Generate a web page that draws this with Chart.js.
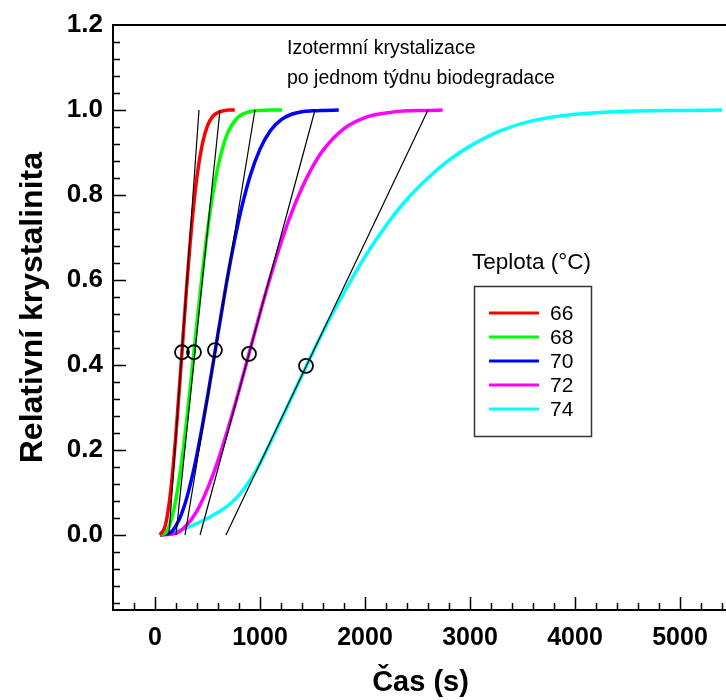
<!DOCTYPE html>
<html>
<head>
<meta charset="utf-8">
<script src="https://cdn.jsdelivr.net/npm/chart.js@4.4.0/dist/chart.umd.min.js"></script>
<style>
  html, body { margin: 0; padding: 0; background: #fff; overflow: hidden; }
</style>
</head>
<body>
<canvas id="crystChart" width="726" height="700"></canvas>
<script>
// ---------- data ----------
const temperatures = ["66", "68", "70", "72", "74"];

const time66 = [48, 100, 150, 200, 250, 300, 350, 400, 450, 500, 550, 600, 650, 700, 760];
const cryst66 = [0, 0.024, 0.105, 0.239, 0.407, 0.579, 0.729, 0.844, 0.919, 0.963, 0.985, 0.994, 0.998, 1.0, 1.0];

const time68 = [48, 100, 150, 200, 250, 300, 350, 400, 450, 500, 550, 600, 650, 700, 800, 900, 1000, 1100, 1210];
const cryst68 = [0, 0.005, 0.031, 0.085, 0.165, 0.266, 0.381, 0.5, 0.614, 0.716, 0.801, 0.867, 0.916, 0.95, 0.985, 0.996, 0.999, 1.0, 1.0];

const time70 = [48, 150, 200, 250, 300, 350, 400, 450, 500, 550, 600, 650, 700, 800, 900, 1000, 1100, 1200, 1300, 1400, 1500, 1600, 1750];
const cryst70 = [0, 0.006, 0.022, 0.048, 0.085, 0.133, 0.19, 0.255, 0.325, 0.399, 0.474, 0.548, 0.619, 0.743, 0.84, 0.908, 0.952, 0.977, 0.99, 0.996, 0.998, 0.999, 1.0];

const time72 = [48, 200, 300, 400, 500, 600, 700, 800, 900, 1000, 1100, 1200, 1300, 1400, 1500, 1600, 1800, 2000, 2200, 2400, 2600, 2740];
const cryst72 = [0, 0.004, 0.023, 0.057, 0.109, 0.175, 0.254, 0.34, 0.431, 0.522, 0.608, 0.688, 0.758, 0.817, 0.866, 0.905, 0.956, 0.982, 0.993, 0.998, 0.999, 1.0];

const time74 = [48, 200, 400, 600, 700, 800, 900, 1000, 1100, 1200, 1300, 1400, 1600, 1800, 2000, 2200, 2400, 2600, 2800, 3000, 3300, 3600, 4000, 4500, 5000, 5400];
const cryst74 = [0, 0.008, 0.027, 0.053, 0.07, 0.094, 0.127, 0.168, 0.218, 0.27, 0.323, 0.376, 0.478, 0.57, 0.655, 0.728, 0.79, 0.84, 0.882, 0.915, 0.952, 0.975, 0.99, 0.997, 0.999, 1.0];

// tangents through the inflection point (x at crystallinity 0 and 1)
const tangentStart = [133, 200, 286, 429, 676];
const tangentEnd = [419, 619, 952, 1524, 2600];

// marked inflection points
const markTime = [257, 371, 571, 895, 1438];
const markCryst = [0.43, 0.43, 0.435, 0.426, 0.398];

const xTickValues = [0, 1000, 2000, 3000, 4000, 5000];
const yTickValues = [0, 0.2, 0.4, 0.6, 0.8, 1.0, 1.2];

const noteLines = ["Izotermní krystalizace", "po jednom týdnu biodegradace"];
const legendTitle = "Teplota (°C)";
const xTitle = "Čas (s)";
const yTitle = "Relativní krystalinita";

// ---------- styling ----------
const FONT = '"Liberation Sans", Arial, Helvetica, sans-serif';
const lineColors = ["#ff0000", "#00ff00", "#0000ff", "#ff00ff", "#00ffff"];
const X_MIN = -400, X_MAX = 5438;
const X_PX_PER_UNIT = 0.105; // 105 px per 1000 s, as in the original
const Y_MIN = -0.1765, Y_MAX = 1.2;

const times = [time66, time68, time70, time72, time74];
const crysts = [cryst66, cryst68, cryst70, cryst72, cryst74];

const toPoints = (xs, ys) => xs.map((x, i) => ({ x, y: ys[i] }));

const curveSets = temperatures.map((t, i) => ({
    label: t,
    data: toPoints(times[i], crysts[i]),
    showLine: true,
    borderColor: lineColors[i],
    borderWidth: 3.5,
    pointRadius: 0,
    cubicInterpolationMode: "monotone",
    clip: { left: 0, top: 0, right: 12, bottom: 0 },
    order: 3,
}));

const tangentSets = tangentStart.map((x0, i) => ({
    label: "tangent " + temperatures[i],
    data: [{ x: x0, y: 0 }, { x: tangentEnd[i], y: 1 }],
    showLine: true,
    borderColor: "#000",
    borderWidth: 1.2,
    pointRadius: 0,
    tension: 0,
    order: 2,
}));

const markSet = {
    label: "inflexe",
    data: toPoints(markTime, markCryst),
    showLine: false,
    pointStyle: "circle",
    pointRadius: 7,
    pointBackgroundColor: "rgba(0,0,0,0)",
    pointBorderColor: "#000",
    pointBorderWidth: 1.8,
    order: 1,
};

// ---------- frame, minor ticks, titles, note and legend ----------
const framePlugin = {
    id: "frame",
    afterLayout(chart) {
        // keep the time scale at the original's pixels per second
        const a = chart.chartArea, xs = chart.scales.x;
        xs.max = X_MIN + (a.right - a.left) / X_PX_PER_UNIT;
        xs.configure();
        xs._labelItems = null;
    },
    afterDraw(chart) {
        const { ctx, chartArea: a, scales } = chart;
        const xs = scales.x, ys = scales.y;
        ctx.save();

        // axis lines (left, bottom, top)
        ctx.strokeStyle = "#000";
        ctx.lineWidth = 2;
        ctx.beginPath();
        ctx.moveTo(chart.width, a.top);
        ctx.lineTo(a.left, a.top);
        ctx.lineTo(a.left, a.bottom);
        ctx.lineTo(chart.width, a.bottom);
        ctx.stroke();

        // inward ticks, major + minor
        ctx.lineWidth = 1.5;
        ctx.beginPath();
        for (let t = -200; t <= X_MAX; t += 200) {
            const px = Math.round(xs.getPixelForValue(t)) + 0.5;
            const len = t % 1000 === 0 ? 13 : 7;
            ctx.moveTo(px, a.bottom);
            ctx.lineTo(px, a.bottom - len);
        }
        for (let k = -4; k <= 29; k++) {
            const py = Math.round(ys.getPixelForValue(k * 0.04)) + 0.5;
            const len = k % 5 === 0 ? 13 : 7;
            ctx.moveTo(a.left, py);
            ctx.lineTo(a.left + len, py);
        }
        ctx.stroke();

        // axis titles
        ctx.fillStyle = "#000";
        ctx.textBaseline = "middle";
        ctx.textAlign = "center";
        ctx.font = "bold 29px " + FONT;
        ctx.fillText(xTitle, (a.left + chart.width) / 2 + 1, a.bottom + 73);
        ctx.save();
        ctx.translate(33, ys.getPixelForValue(0.535));
        ctx.rotate(-Math.PI / 2);
        ctx.font = "bold 32px " + FONT;
        ctx.fillText(yTitle, 0, 0);
        ctx.restore();

        // note text
        ctx.textAlign = "left";
        ctx.font = "19.5px " + FONT;
        const noteX = a.left + 174;
        noteLines.forEach((s, i) => ctx.fillText(s, noteX, a.top + 24 + i * 30));

        // legend
        const lx = a.left + 361, ly = a.top + 261;
        ctx.font = "22.5px " + FONT;
        ctx.fillText(legendTitle, lx - 2, ly - 23);
        ctx.strokeStyle = "#333";
        ctx.lineWidth = 1.5;
        ctx.strokeRect(lx + 0.5, ly + 0.5, 117, 150);
        ctx.font = "21px " + FONT;
        temperatures.forEach((t, i) => {
            const cy = ly + 27 + i * 24;
            ctx.strokeStyle = lineColors[i];
            ctx.lineWidth = 3;
            ctx.beginPath();
            ctx.moveTo(lx + 15, cy);
            ctx.lineTo(lx + 65, cy);
            ctx.stroke();
            ctx.fillStyle = "#000";
            ctx.fillText(t, lx + 76, cy + 1);
        });
        ctx.restore();
    },
};

new Chart(document.getElementById("crystChart"), {
    type: "scatter",
    data: { datasets: [markSet, ...tangentSets, ...curveSets] },
    options: {
        responsive: false,
        animation: false,
        layout: { padding: { top: 25, right: 0, left: 0, bottom: 0 } },
        plugins: {
            legend: { display: false },
            tooltip: { enabled: false },
        },
        scales: {
            x: {
                type: "linear",
                min: X_MIN,
                max: X_MAX,
                afterFit: (s) => {
                    s.height = 90;
                    s.paddingLeft = 0;
                    s.paddingRight = 0;
                },
                afterBuildTicks: (s) => { s.ticks = xTickValues.map((v) => ({ value: v })); },
                grid: { display: false, drawTicks: false },
                border: { display: false },
                ticks: {
                    color: "#000",
                    padding: 13,
                    maxRotation: 0,
                    autoSkip: false,
                    font: { family: FONT, size: 25, weight: "bold" },
                    callback: (v) => String(v),
                },
            },
            y: {
                type: "linear",
                min: Y_MIN,
                max: Y_MAX,
                afterFit: (s) => {
                    s.width = 113;
                    s.paddingTop = 0;
                    s.paddingBottom = 0;
                },
                afterBuildTicks: (s) => { s.ticks = yTickValues.map((v) => ({ value: v })); },
                grid: { display: false, drawTicks: false },
                border: { display: false },
                ticks: {
                    color: "#000",
                    padding: 10,
                    autoSkip: false,
                    font: { family: FONT, size: 26, weight: "bold" },
                    callback: (v) => Number(v).toFixed(1),
                },
            },
        },
    },
    plugins: [framePlugin],
});
</script>
</body>
</html>
